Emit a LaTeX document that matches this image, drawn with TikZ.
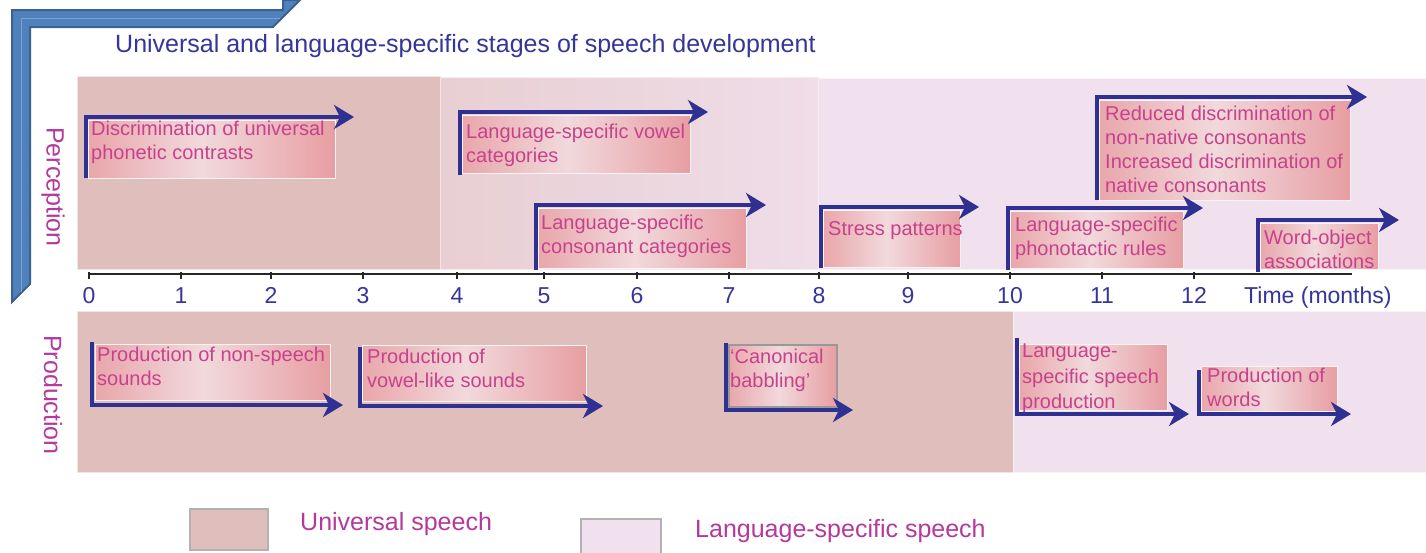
\documentclass[tikz,border=0pt]{standalone}
\usepackage{fontspec}
\setmainfont{Liberation Sans}
\usetikzlibrary{arrows.meta}
\definecolor{univ}{HTML}{DFBEBC}
\definecolor{lang}{HTML}{F1E1EE}
\definecolor{midl}{HTML}{E8CFD3}
\definecolor{midr}{HTML}{EFDDE8}
\definecolor{arrowblue}{HTML}{2E3192}
\definecolor{titleblue}{HTML}{35359A}
\definecolor{magent}{HTML}{B5399C}
\definecolor{boxtext}{HTML}{C8418C}
\definecolor{boxred}{HTML}{E48A8F}
\definecolor{boxredl}{HTML}{E9A0A4}
\definecolor{boxlight}{HTML}{F1D9DC}
\definecolor{framefill}{HTML}{4F81BD}
\definecolor{framedark}{HTML}{3B6190}
\pgfdeclarehorizontalshading{boxshade}{100bp}{color(0bp)=(boxred); color(12bp)=(boxred); color(48bp)=(boxlight); color(84bp)=(boxred); color(100bp)=(boxredl)}
\begin{document}
\begin{tikzpicture}[x=1pt,y=-1pt,
  panel/.style={draw=white!60!#1, line width=1pt, fill=#1},
  gbox/.style={anchor=north west, inner sep=0pt, draw=white!70!boxlight, line width=1pt,
    shading=boxshade},
  btxt/.style={anchor=north west, inner sep=0pt, align=left, text=boxtext,
    font=\fontsize{20}{24}\selectfont},
  arr/.style={draw=arrowblue, line width=4pt, line join=miter,
    -{Stealth[length=20pt,width=24pt,inset=6pt]}},
  tick/.style={draw=black!85, line width=2pt},
  ticklbl/.style={anchor=base, inner sep=0pt, text=titleblue, font=\fontsize{23}{26}\selectfont},
  rowlbl/.style={rotate=-90, inner sep=0pt, text=magent, font=\fontsize{25}{28}\selectfont},
  legbox/.style={anchor=north west, inner sep=0pt, draw=black!30, line width=2pt},
  legtxt/.style={anchor=base west, inner sep=0pt, text=magent, font=\fontsize{25}{28}\selectfont}
]
\useasboundingbox (0,0) rectangle (1426,552);
\fill[white] (0,0) rectangle (1426,552);

% frame
\draw[framedark, fill=framefill, line width=2pt, line join=miter]
  (12,302) -- (12,10) -- (283,10) -- (283,0) -- (300,0) -- (273,27) -- (30,27) -- (30,284) -- cycle;
\draw[framefill!75!white, line width=1pt] (21,292) -- (21,18) -- (280,18);

% title
\node[anchor=base west, inner sep=0pt, text=titleblue, font=\fontsize{25}{28}\selectfont]
  (title) at (115,52) {Universal and language-specific stages of speech development};

% perception panels
\node[panel=lang, anchor=north west, inner sep=0pt, minimum width=608pt, minimum height=191pt] (pr) at (818,78) {};
\node[anchor=north west, inner sep=0pt, minimum width=378pt, minimum height=192pt,
  left color=midl, right color=midr, draw=white!60!midl, line width=1pt] (pm) at (440,77) {};
\node[panel=univ, anchor=north west, inner sep=0pt, minimum width=363pt, minimum height=193pt] (pu) at (77,76) {};

% production panels
\node[panel=univ, anchor=north west, inner sep=0pt, minimum width=936pt, minimum height=161pt] (ru) at (77,311) {};
\node[panel=lang, anchor=north west, inner sep=0pt, minimum width=413pt, minimum height=161pt] (rl) at (1013,311) {};

% axis
\coordinate (ax0) at (88,274);
\coordinate (ax1) at (1352,274);
\draw[tick] (ax0) -- (ax1);
\foreach \m/\x in {0/89,1/181,2/271,3/363,4/457,5/544,6/637,7/729,8/819,9/908,10/1010,11/1102,12/1194} {
  \draw[tick] (\x,272) -- (\x,279);
  \node[ticklbl] (t\m) at (\x,303) {\m};
}
\node[ticklbl, anchor=base west] (tm) at (1244,303) {Time (months)};

% row labels
\node[rowlbl] (perc) at (53,187) {Perception};
\node[rowlbl] (prod) at (53,395) {Production};

% perception boxes
\node[gbox, minimum width=247pt, minimum height=58pt] (b1) at (88,120) {};
\node[gbox, minimum width=228pt, minimum height=58pt] (b2) at (462,115) {};
\node[gbox, minimum width=208pt, minimum height=60pt] (b3) at (538,208) {};
\node[gbox, minimum width=137pt, minimum height=57pt] (b4) at (823,210) {};
\node[gbox, minimum width=173pt, minimum height=57pt] (b5) at (1010,211) {};
\node[gbox, minimum width=251pt, minimum height=100pt] (b6) at (1099,100) {};
\node[gbox, minimum width=118pt, minimum height=46pt] (b7) at (1260,223) {};

% production boxes
\node[gbox, minimum width=235pt, minimum height=56pt] (c1) at (95,344) {};
\node[gbox, minimum width=224pt, minimum height=56pt] (c2) at (362,345) {};
\node[gbox, minimum width=108pt, minimum height=62pt, draw=black!40, line width=2pt] (c3) at (728,344) {};
\node[gbox, minimum width=148pt, minimum height=66pt] (c4) at (1019,344) {};
\node[gbox, minimum width=136pt, minimum height=45pt] (c5) at (1201,366) {};

% texts
\node[btxt] (tb1) at (91,121) {Discrimination of universal\\phonetic contrasts};
\node[btxt] (tb2) at (466,124) {Language-specific vowel\\categories};
\node[btxt] (tb3) at (541,215) {Language-specific\\consonant categories};
\node[btxt] (tb4) at (828,221) {Stress patterns};
\node[btxt] (tb5) at (1015,217) {Language-specific\\phonotactic rules};
\node[btxt] (tb6) at (1105,106) {Reduced discrimination of\\non-native consonants\\Increased discrimination of\\native consonants};
\node[btxt] (tb7) at (1264,230) {Word-object\\associations};
\node[btxt] (tc1) at (97,347) {Production of non-speech\\sounds};
\node[btxt] (tc2) at (367,349) {Production of\\vowel-like sounds};
\node[btxt] (tc3) at (730,349) {`Canonical\\babbling'};
\node[btxt, font=\fontsize{20}{25.5}\selectfont] (tc4) at (1022,344) {Language-\\specific speech\\production};
\node[btxt] (tc5) at (1207,368) {Production of\\words};

% perception arrows
\coordinate (pa1s) at (86,178);  \coordinate (pa1e) at (354,117);
\coordinate (pa2s) at (460,175); \coordinate (pa2e) at (708,112);
\coordinate (pa3s) at (536,270); \coordinate (pa3e) at (766,205);
\coordinate (pa4s) at (821,268); \coordinate (pa4e) at (979,207);
\coordinate (pa5s) at (1008,270);\coordinate (pa5e) at (1203,208);
\coordinate (pa6s) at (1097,200);\coordinate (pa6e) at (1367,97);
\coordinate (pa7s) at (1258,272);\coordinate (pa7e) at (1399,220);
\foreach \i in {1,...,7} { \draw[arr] (pa\i s) |- (pa\i e); }

% production arrows
\coordinate (ra1s) at (92,342);  \coordinate (ra1e) at (343,405);
\coordinate (ra2s) at (360,347); \coordinate (ra2e) at (603,406);
\coordinate (ra3s) at (726,343); \coordinate (ra3e) at (853,410);
\coordinate (ra4s) at (1017,338);\coordinate (ra4e) at (1189,414);
\coordinate (ra5s) at (1199,370);\coordinate (ra5e) at (1351,414);
\foreach \i in {1,...,5} { \draw[arr] (ra\i s) |- (ra\i e); }

% legend
\node[legbox, fill=univ, minimum width=78pt, minimum height=41pt] (lg1) at (189,508) {};
\node[legtxt] (lt1) at (300,530) {Universal speech};
\node[legbox, fill=lang, minimum width=80pt, minimum height=40pt] (lg2) at (580,518) {};
\node[legtxt] (lt2) at (695,537) {Language-specific speech};
\end{tikzpicture}
\end{document}
